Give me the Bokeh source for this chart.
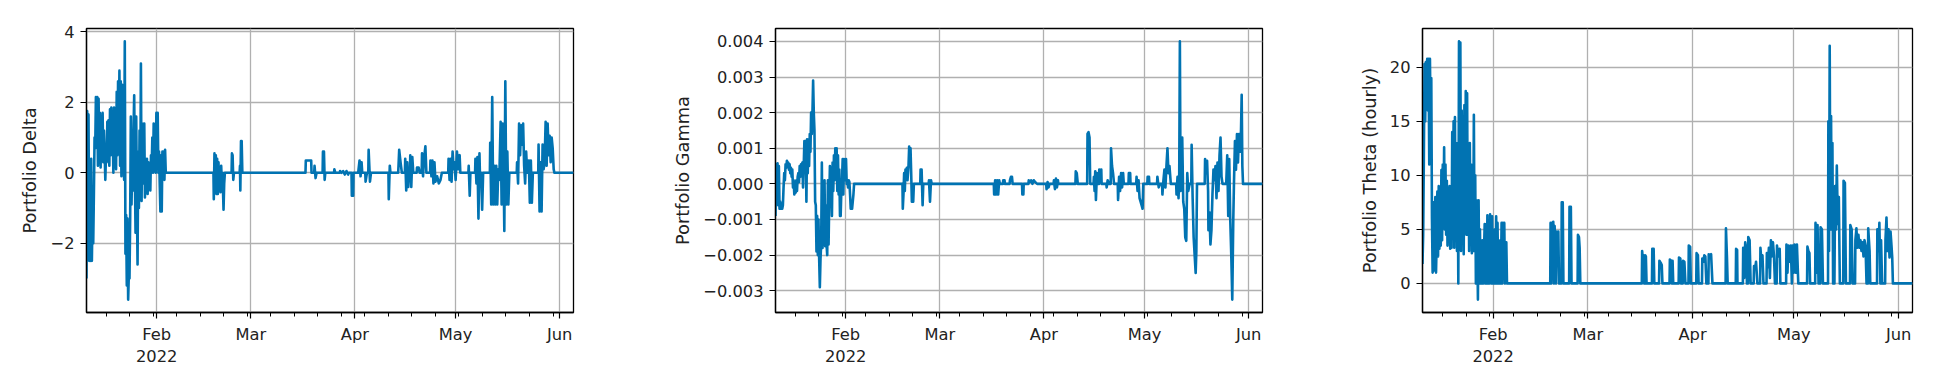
import pandas as pd
from bokeh.plotting import figure
from bokeh.layouts import row
from bokeh.models import Range1d, FixedTicker
from bokeh.embed import file_html
from bokeh.resources import INLINE

BASE = pd.Timestamp("2022-01-01")

# x-axis tick labels
month_dates = ["2022-02-01", "2022-03-01", "2022-04-01", "2022-05-01", "2022-06-01"]
month_labels = ["Feb\n2022", "Mar", "Apr", "May", "Jun"]

# hourly-like sampling during January (days since 2022-01-01)
early_t = [10.1, 10.3, 10.5, 10.7, 10.9, 11.1, 11.3, 11.5, 11.7, 11.9,
           12.1, 12.3, 12.5, 12.7, 12.9, 13.1, 13.3, 13.5, 13.7, 13.9,
           14.1, 14.3, 14.5, 14.7, 14.9, 15.1, 15.3, 15.5, 15.7, 15.9,
           16.1, 16.3, 16.5, 16.7, 16.9, 17.1, 17.3, 17.5, 17.7, 17.9,
           18.1, 18.3, 18.5, 18.7, 18.9, 19.1, 19.3, 19.5, 19.7, 19.9,
           20.1, 20.3, 20.5, 20.7, 20.9, 21.1, 21.3, 21.5, 21.7, 21.9,
           22.1, 22.3, 22.5, 22.7, 22.9, 23.1, 23.3, 23.5, 23.7, 23.9,
           24.1, 24.3, 24.5, 24.7, 24.9, 25.1, 25.3, 25.5, 25.7, 25.9,
           26.1, 26.3, 26.5, 26.7, 26.9, 27.1, 27.3, 27.5, 27.7, 27.9,
           28.1, 28.3, 28.5, 28.7, 28.9, 29.1, 29.3, 29.5, 29.7, 29.9,
           30.1, 30.3, 30.5, 30.7, 30.9, 31.1, 31.3, 31.5, 31.7, 31.9,
           32.1, 32.3, 32.5, 32.7, 32.9, 33.1, 33.3, 33.5, 33.7, 33.9,
           34.1, 34.3, 34.5, 34.7, 34.9, 35.1, 35.3]

delta_early_v = [-3.0, 1.75, -1.3, 1.65, -2.5, -0.5, -2.5, 0.4, -2.5, -1.0,
                 -2.0, -0.6, 1.0, 0.7, 2.15, 0.9, 2.15, 0.2, 2.1, 0.3,
                 1.7, 0.15, 1.6, 0.5, 1.7, 0.3, 1.2, 0.6, -0.2, 0.5,
                 0.3, 1.45, 0.4, 1.5, 0.2, 1.8, 0.5, 1.85, 0.9, 1.2,
                 0.0, 1.85, 0.6, 1.6, 0.1, 2.3, 0.5, 2.6, 1.0, 2.9,
                 0.2, 2.6, -0.1, 2.5, 0.4, 1.6, -0.2, 3.73, -2.3, -1.2,
                 -3.2, -1.3, -3.6, -2.9, -3.0, -1.3, 1.6, -0.9, 0.2, -0.5,
                 1.2, 2.2, 0.0, -1.7, 1.6, -0.8, -2.6, 0.6, -1.0, 1.2,
                 -0.6, 3.1, -0.8, 1.4, -0.3, 0.3, 1.4, -0.7, 0.4, -0.5,
                 0.4, -0.6, 0.3, -0.4, 0.2, -0.5, 0.5, 0.1, 1.0, 0.0,
                 1.4, 0.1, 0.5, 0.0, 1.7, 0.2, 1.7, 0.0, 0.6, -0.3,
                 -1.1, 0.5, -1.1, 0.6, 0.1, 0.6, -0.2, 0.65, 0.0, 0.0,
                 0.0, 0.0, 0.0, 0.0, 0.0, 0.0, 0.0]

gamma_early_milli = [-0.9, 0.55, -0.4, 0.58, -0.6, 0.5, -0.7, -0.5, -0.7, -0.55,
                     -0.7, -0.6, -0.1, 0.3, 0.1, 0.55, 0.45, 0.65, 0.5, 0.6,
                     0.4, 0.55, 0.3, 0.45, 0.2, 0.4, -0.1, 0.1, -0.3, -0.1,
                     -0.25, 0.1, -0.2, 0.2, 0.3, 0.05, 0.5, 0.2, 0.55, 0.3,
                     0.6, -0.1, 0.5, 1.2, 0.4, 1.2, -0.5, 1.25, 0.3, 1.25,
                     0.5, 1.4, 0.9, 2.0, 1.4, 2.0, 2.9, 2.0, 1.5, -0.5,
                     -0.6, -1.9, -0.9, -2.0, -1.0, -2.1, -2.9, -2.1, -1.7, 0.6,
                     -1.8, -0.6, -1.7, 0.1, -1.75, -0.6, -1.7, -2.0, 0.1, -1.7,
                     -0.5, 0.5, -0.3, 0.1, -0.9, 0.6, -0.2, 0.8, 0.1, 1.0,
                     0.2, 1.0, -0.2, 0.8, -0.3, 0.4, -0.9, -0.9, -0.2, 0.1,
                     0.7, -0.3, 0.7, 0.65, 0.1, 0.7, 0.0, 0.1, -0.1, 0.1,
                     0.05, -0.3, -0.7, -0.5, -0.7, -0.5, -0.3, 0.0, 0.0, 0.0,
                     0.0, 0.0, 0.0, 0.0, 0.0, 0.0, 0.0]

theta_early_v = [1.8, 4.5, 11.5, 20.3, 15.0, 20.5, 17.0, 20.8, 16.0, 20.8,
                 11.0, 20.8, 15.0, 19.0, 6.0, 1.0, 7.5, 1.2, 3.0, 8.0,
                 1.0, 4.0, 8.5, 2.5, 9.0, 3.2, 8.0, 3.5, 10.5, 4.0,
                 11.0, 6.0, 12.6, 5.0, 11.0, 4.5, 9.5, 3.5, 8.5, 4.0,
                 9.0, 3.2, 8.0, 3.3, 14.0, 4.5, 15.0, 3.3, 15.4, 6.0,
                 13.0, 3.0, 11.0, 0.0, 22.4, 10.0, 22.3, 3.0, 16.0, 8.0,
                 13.0, 2.7, 16.5, 6.0, 17.8, 4.5, 17.6, 4.5, 12.0, 3.0,
                 13.0, 5.0, 11.0, 2.8, 9.0, 3.0, 15.6, 3.0, 10.0, 0.0,
                 7.7, 4.0, -1.5, 7.7, 0.0, 5.0, 0.0, 4.0, 0.0, 4.0,
                 0.0, 3.0, 5.5, 0.0, 5.5, 0.0, 6.3, 0.0, 5.0, 0.0,
                 6.4, 5.0, 0.0, 6.2, 0.0, 3.0, 0.0, 5.0, 0.0, 6.2,
                 0.0, 5.6, 0.0, 3.0, 0.0, 4.0, 0.0, 5.6, 0.0, 5.6,
                 2.0, 5.6, 0.0, 3.8, 3.8, 0.0, 0.0]

# February - June samples (days since 2022-01-01)
delta_late_t = [47.9, 48.0, 48.2, 48.4, 48.6, 48.8, 49.0, 49.2, 49.4, 49.6, 49.8, 50.0, 50.2, 50.4,
                50.6, 50.9, 51.1, 51.3, 53.3, 53.4, 53.6, 53.8, 54.0, 55.7, 55.8, 55.9, 56.1, 56.3,
                56.5, 75.3, 75.4, 77.0, 77.1, 77.9, 78.0, 78.3, 78.6, 80.4, 80.5, 80.8, 81.0, 81.2,
                83.8, 83.9, 84.2, 85.5, 85.6, 86.0, 86.5, 87.0, 87.5, 88.0, 88.2, 89.0, 89.1, 89.5,
                89.6, 91.0, 91.1, 91.4, 91.7, 92.0, 92.2, 93.1, 93.2, 93.6, 94.0, 94.1, 94.5, 94.8,
                100.0, 100.1, 100.4, 100.6, 102.9, 103.0, 103.2, 103.6, 104.0, 104.9, 105.0, 105.3,
                105.6, 105.9, 106.1, 106.4, 106.5, 106.8, 107.1, 107.4, 108.4, 108.5, 109.0, 109.3,
                109.9, 110.0, 110.3, 110.6, 111.0, 111.3, 112.4, 112.5, 112.8, 113.1, 113.4, 113.7,
                114.0, 114.5, 115.0, 115.5, 115.9, 117.8, 117.9, 118.2, 118.5, 118.8, 119.1, 119.4,
                119.7, 120.0, 120.4, 120.8, 121.2, 121.4, 123.8, 123.9, 124.2, 124.4, 125.8, 125.9,
                126.2, 126.5, 126.8, 127.1, 127.3, 127.6, 127.9, 128.2, 130.2, 130.3, 130.6, 130.9,
                131.2, 131.5, 131.8, 132.1, 132.4, 132.7, 133.0, 133.4, 133.7, 134.0, 134.3, 134.5,
                134.8, 135.1, 135.4, 135.7, 136.0, 138.2, 138.3, 138.6, 138.9, 139.2, 139.5, 139.8,
                140.1, 140.4, 140.7, 141.0, 141.3, 141.7, 141.8, 142.1, 142.4, 142.7, 143.0, 144.6,
                144.7, 145.0, 145.3, 145.6, 145.9, 146.2, 146.5, 146.8, 147.1, 147.4, 147.7, 148.0,
                148.3, 148.6, 148.9, 149.2, 149.4, 155.1]
delta_late_v = [0.0, -0.75, 0.55, -0.2, 0.5, -0.6, 0.4, -0.6, 0.3, -0.5, 0.1, -0.55, 0.2, -0.3,
                0.0, -1.05, -0.3, 0.0, 0.0, 0.55, 0.5, -0.2, 0.0, 0.0, 0.2, -0.5, 0.9, 0.9,
                0.0, 0.0, 0.35, 0.35, 0.0, 0.0, 0.2, -0.15, 0.0, 0.0, 0.6, 0.6, -0.2, 0.0,
                0.0, 0.1, 0.0, 0.0, 0.05, 0.0, 0.05, -0.05, 0.05, -0.05, 0.0, 0.0, -0.65, -0.65,
                0.0, 0.0, 0.1, 0.35, -0.1, 0.3, 0.0, 0.0, -0.25, 0.0, 0.0, 0.65, -0.25, 0.0,
                0.0, -0.75, 0.2, 0.0, 0.0, 0.2, 0.65, 0.3, 0.0, 0.0, 0.4, -0.5,
                0.3, -0.4, 0.0, 0.0, 0.5, -0.4, 0.45, 0.0, 0.0, 0.15, 0.15, 0.0,
                0.0, 0.55, -0.1, 0.4, 0.75, 0.0, 0.0, 0.35, -0.1, 0.35, -0.3, 0.3,
                -0.25, -0.1, -0.3, -0.2, 0.0, 0.0, 0.4, -0.2, 0.4, -0.25, 0.6, 0.1,
                0.3, -0.2, 0.6, 0.1, 0.5, 0.0, 0.0, 0.2, -0.65, 0.0, 0.0, 0.4,
                -0.3, 0.45, -1.3, 0.55, -0.3, 0.0, -1.05, 0.0, 0.0, 0.85, -0.9, 2.15,
                -0.9, 0.2, -0.9, 0.2, -0.9, 0.1, -0.2, 1.45, -0.9, 1.4, 0.0, -1.65,
                2.6, -0.9, 0.6, -0.9, 0.0, 0.0, 0.3, -0.3, 1.4, 0.5, 1.35, 0.8,
                1.4, 0.2, -0.3, 0.6, 0.0, 0.0, 0.35, -0.85, 0.35, -0.85, 0.0, 0.0,
                0.8, -1.1, 0.3, -1.1, 0.8, 0.1, 0.3, 1.45, 0.2, 1.4, 0.5, 1.05,
                0.3, 1.0, 0.7, 0.1, 0.0, 0.0]

gamma_late_t = [47.9, 48.0, 48.2, 48.4, 48.6, 48.8, 49.0, 49.2, 49.4, 49.7, 49.9, 50.1, 50.3, 50.5,
                50.7, 50.9, 51.1, 51.3, 53.2, 53.3, 53.6, 53.9, 54.1, 55.7, 55.8, 56.1, 56.4, 56.6,
                75.1, 75.2, 75.5, 75.8, 76.1, 76.4, 76.7, 76.9, 77.8, 77.9, 78.3, 78.4, 79.8, 79.9,
                80.2, 80.5, 80.7, 83.5, 83.6, 83.9, 84.0, 85.4, 85.5, 85.8, 86.2, 86.6, 87.0, 87.4,
                88.0, 90.7, 90.8, 91.1, 91.4, 91.7, 92.9, 93.0, 93.3, 93.6, 93.9, 94.2, 94.3, 99.4,
                99.5, 99.8, 100.1, 102.9, 103.0, 103.3, 103.6, 103.8, 104.8, 104.9, 105.1, 105.3,
                105.5, 105.8, 106.0, 106.4, 106.5, 106.8, 107.1, 107.2, 108.6, 108.7, 109.0, 109.4,
                109.9, 110.0, 110.3, 110.6, 110.9, 112.0, 112.1, 112.4, 112.7, 113.0, 113.3, 113.6,
                113.8, 115.2, 115.3, 115.7, 115.8, 117.5, 117.6, 117.9, 118.2, 118.5, 118.8, 119.1,
                119.4, 119.6, 120.8, 120.9, 121.3, 121.4, 123.7, 123.8, 124.2, 124.6, 125.2, 125.3,
                125.6, 125.9, 126.2, 126.5, 126.8, 127.1, 127.4, 127.8, 129.4, 129.5, 129.8, 130.1,
                130.3, 130.5, 130.7, 131.0, 131.2, 131.5, 131.8, 132.1, 132.4, 132.7, 133.0, 133.4,
                133.9, 134.0, 134.3, 134.6, 134.9, 135.2, 135.4, 135.6, 137.9, 138.0, 138.3, 138.6,
                138.9, 139.0, 139.3, 139.6, 139.9, 140.2, 140.5, 140.8, 141.1, 141.4, 141.7, 142.0,
                142.3, 142.6, 142.9, 143.2, 144.3, 144.6, 144.9, 145.2, 145.5, 145.8, 146.1, 146.4,
                146.6, 146.9, 147.2, 147.5, 147.8, 148.1, 148.4, 148.7, 148.9, 149.1, 149.3, 155.1]
gamma_late_milli = [0.0, -0.7, -0.3, 0.3, -0.2, 0.4, 0.2, 0.45, 0.1, 0.5, 1.05, 0.5, 1.0, 0.3,
                    -0.5, 0.0, -0.5, 0.0, 0.0, 0.4, 0.4, -0.6, 0.0, 0.0, 0.1, -0.5, 0.1, 0.0,
                    0.0, -0.3, 0.1, -0.3, 0.1, -0.3, 0.1, 0.0, 0.0, 0.1, 0.1, 0.0, 0.0, 0.1,
                    0.2, 0.2, 0.0, 0.0, -0.3, -0.3, 0.0, 0.0, 0.1, 0.05, 0.1, 0.0, 0.1, 0.05,
                    0.0, 0.0, -0.15, 0.05, -0.1, 0.0, 0.0, 0.1, -0.15, 0.15, -0.1, 0.1, 0.0, 0.0,
                    0.35, 0.3, 0.0, 0.0, 1.4, 1.45, 1.3, 0.0, 0.0, 0.2, -0.2, 0.35,
                    -0.45, 0.3, 0.0, 0.0, 0.4, 0.1, 0.4, 0.0, 0.0, -0.1, 0.1, 0.0,
                    0.0, 1.0, 0.5, 0.3, 0.0, 0.0, -0.45, 0.2, -0.2, 0.3, -0.1, 0.3,
                    0.0, 0.0, 0.3, 0.3, 0.0, 0.0, 0.2, -0.2, 0.1, -0.4, -0.5, -0.6,
                    -0.7, 0.0, 0.0, 0.2, 0.2, 0.0, 0.0, 0.2, -0.1, 0.0, 0.0, -0.3,
                    0.1, 0.4, -0.1, 0.5, 1.0, 0.3, 0.5, 0.0, 0.0, -0.3, 0.2, -0.4,
                    0.2, 4.0, -0.2, 0.3, 1.3, -0.5, -0.7, -1.5, -1.6, 0.3, -0.2, 0.0,
                    0.0, 1.1, -0.4, -1.5, -2.0, -2.5, -1.9, 0.0, 0.0, 0.7, 0.3, 0.65,
                    -0.2, -1.3, -0.8, -1.7, -1.3, -0.3, 0.4, 0.1, 0.5, -0.4, 0.6, -0.2,
                    0.8, 1.3, 0.2, 0.0, 0.0, 0.8, -0.9, 0.7, -1.0, -2.0, -3.25, -1.0,
                    0.0, 1.2, 0.4, 1.4, 0.6, 1.4, 0.9, 1.5, 2.5, 0.5, 0.0, 0.0]

theta_late_t = [47.9, 48.0, 48.2, 48.4, 48.6, 48.8, 49.0, 49.2, 49.4, 49.6, 49.8, 50.0, 50.3, 50.5,
                51.2, 51.3, 51.6, 51.8, 53.5, 53.6, 54.0, 54.2, 56.0, 56.1, 56.4, 56.6, 56.8,
                75.0, 75.1, 75.3, 75.5, 75.7, 75.9, 76.0, 76.2, 76.4, 78.0, 78.1, 78.5, 78.7,
                80.1, 80.2, 80.6, 80.9, 81.1, 83.2, 83.3, 83.7, 83.9, 84.0, 84.1, 84.3, 85.9, 86.0,
                86.4, 86.6, 87.1, 87.2, 87.6, 87.9, 88.8, 88.9, 89.3, 89.5, 91.1, 91.2, 91.6, 91.8,
                92.8, 92.9, 93.2, 93.5, 93.8, 94.1, 94.7, 94.8, 95.2, 95.5, 95.9, 99.8, 99.9, 100.2,
                100.4, 102.8, 102.9, 103.2, 103.3, 104.9, 105.0, 105.3, 105.6, 106.0, 106.1, 106.4,
                106.5, 106.9, 107.2, 108.1, 108.2, 108.6, 108.8, 109.2, 110.0, 110.1, 110.4, 110.7,
                111.0, 111.9, 112.0, 112.3, 112.6, 112.9, 113.2, 113.5, 113.8, 114.1, 114.4, 114.9,
                115.0, 115.4, 115.8, 116.0, 117.7, 117.8, 118.1, 118.4, 118.8, 119.1, 119.4, 119.6,
                119.9, 120.2, 120.6, 120.9, 121.3, 123.9, 124.0, 124.3, 124.6, 124.8, 126.3, 126.4,
                126.8, 127.0, 127.3, 127.8, 127.9, 128.3, 128.6, 130.1, 130.2, 130.4, 130.6, 130.8,
                131.0, 131.2, 131.4, 131.6, 132.0, 132.2, 132.5, 132.7, 133.0, 133.3, 133.6, 134.6,
                134.7, 135.1, 135.4, 136.6, 136.7, 137.1, 137.4, 138.1, 138.2, 138.5, 138.8, 139.1,
                139.4, 139.7, 140.0, 140.3, 140.6, 140.9, 141.2, 141.5, 141.9, 142.0, 142.4, 142.6,
                144.6, 144.7, 145.0, 145.3, 145.6, 145.8, 146.1, 147.0, 147.1, 147.4, 147.7, 148.0,
                148.3, 148.6, 148.9, 149.1, 149.3, 155.1]
theta_late_v = [0.0, 5.6, 0.0, 5.6, 2.0, 5.7, 0.0, 5.3, 2.0, 0.0, 4.8, 2.5, 4.8, 0.0,
                0.0, 7.5, 7.5, 0.0, 0.0, 7.1, 7.1, 0.0, 0.0, 4.5, 4.3, 3.3, 0.0,
                0.0, 3.0, 2.2, 2.6, 0.0, 0.0, 2.6, 2.5, 0.0, 0.0, 3.2, 3.2, 0.0,
                0.0, 2.1, 1.9, 1.7, 0.0, 0.0, 2.2, 2.1, 0.0, 0.0, 2.1, 0.0, 0.0, 2.4,
                2.3, 0.0, 0.0, 2.1, 2.0, 0.0, 0.0, 3.5, 3.4, 0.0, 0.0, 2.8, 2.6, 0.0,
                0.0, 2.3, 2.0, 2.6, 2.5, 0.0, 0.0, 2.7, 2.6, 2.7, 0.0, 0.0, 5.1, 2.4,
                0.0, 0.0, 3.2, 3.1, 0.0, 0.0, 3.3, 0.5, 3.8, 3.0, 0.0, 0.0,
                4.3, 4.0, 0.0, 0.0, 1.6, 1.5, 2.0, 0.0, 0.0, 3.3, 2.0, 2.6,
                0.0, 0.0, 2.8, 1.5, 3.3, 0.5, 4.0, 2.5, 3.8, 2.6, 0.0, 0.0,
                3.5, 2.5, 3.2, 0.0, 0.0, 3.6, 1.0, 3.5, 2.0, 3.5, 0.0, 3.5,
                1.0, 3.6, 1.0, 3.6, 0.0, 0.0, 3.4, 3.0, 2.8, 0.0, 0.0, 5.6,
                1.0, 5.4, 0.0, 0.0, 5.2, 5.0, 0.0, 0.0, 15.0, 3.0, 22.0, 5.0,
                15.5, 5.0, 13.0, 0.0, 0.0, 9.0, 5.0, 10.9, 5.5, 8.0, 0.0, 0.0,
                9.5, 9.3, 0.0, 0.0, 5.4, 5.0, 0.0, 0.0, 4.0, 5.1, 3.3, 4.5,
                3.3, 4.0, 3.0, 3.8, 2.5, 4.0, 3.5, 0.0, 0.0, 5.1, 3.0, 0.0,
                0.0, 5.0, 3.0, 5.6, 0.0, 4.0, 0.0, 0.0, 4.0, 6.1, 3.0, 5.0,
                2.4, 4.8, 3.4, 2.4, 0.0, 0.0]

delta_y_ticks = [-2, 0, 2, 4]
delta_y_labels = ["\u22122", "0", "2", "4"]
gamma_y_ticks = [-0.003, -0.002, -0.001, 0.0, 0.001, 0.002, 0.003, 0.004]
gamma_y_labels = ["\u22120.003", "\u22120.002", "\u22120.001", "0.000", "0.001", "0.002", "0.003", "0.004"]
theta_y_ticks = [0, 5, 10, 15, 20]
theta_y_labels = ["0", "5", "10", "15", "20"]

LINE_COLOR = "#0173b2"
FONT = "DejaVu Sans"


def to_ms(ts):
    return (pd.Timestamp(ts) - pd.Timestamp("1970-01-01")).total_seconds() * 1000.0


month_ms = [to_ms(d) for d in month_dates]
monday_ms = [to_ms(d) for d in pd.date_range("2022-01-17", "2022-05-30", freq="7D")]


def panel(t_days, vals, ylabel, yticks, ylabels, width, left, right, top):
    x = BASE + pd.to_timedelta(pd.Series(t_days), unit="D")
    lo, hi = min(vals), max(vals)
    pad = 0.05 * (hi - lo)
    p = figure(width=width, height=374, x_axis_type="datetime",
               output_backend="svg", toolbar_location=None,
               x_range=Range1d(x.iloc[0], x.iloc[-1]),
               y_range=Range1d(lo - pad, hi + pad),
               min_border_left=left, min_border_right=right,
               min_border_top=top, min_border_bottom=62)
    p.line(x, vals, line_color=LINE_COLOR, line_width=2.6, line_join="round")

    p.background_fill_color = "white"
    p.border_fill_color = "white"
    p.outline_line_color = "black"
    p.outline_line_width = 1.3
    p.outline_line_alpha = 1.0

    p.xaxis.ticker = FixedTicker(ticks=month_ms, minor_ticks=monday_ms)
    p.xaxis.major_label_overrides = dict(zip(month_ms, month_labels))
    p.yaxis.ticker = FixedTicker(ticks=yticks)
    p.yaxis.major_label_overrides = dict(zip(yticks, ylabels))
    p.xgrid.ticker = FixedTicker(ticks=month_ms)
    p.ygrid.ticker = FixedTicker(ticks=yticks)

    for ax in (p.xaxis[0], p.yaxis[0]):
        ax.axis_line_color = "black"
        ax.axis_line_width = 1.3
        ax.major_tick_line_color = "black"
        ax.major_tick_line_width = 1.2
        ax.minor_tick_line_color = "black"
        ax.minor_tick_line_width = 1.0
        ax.major_tick_in = 0
        ax.major_tick_out = 6
        ax.minor_tick_in = 0
        ax.minor_tick_out = 4
        ax.major_label_text_font = FONT
        ax.major_label_text_font_size = "16.3px"
        ax.major_label_text_color = "#222222"
        ax.major_label_standoff = 6
    p.yaxis.minor_tick_out = 0
    p.yaxis.axis_label = ylabel
    p.yaxis.axis_label_text_font = FONT
    p.yaxis.axis_label_text_font_size = "17.8px"
    p.yaxis.axis_label_text_font_style = "normal"
    p.yaxis.axis_label_text_color = "#222222"
    p.yaxis.axis_label_standoff = 7

    for g in (p.xgrid[0], p.ygrid[0]):
        g.grid_line_color = "#b0b0b0"
        g.grid_line_width = 1.3
    return p


p1 = panel(early_t + delta_late_t, delta_early_v + delta_late_v,
           "Portfolio Delta", delta_y_ticks, delta_y_labels,
           width=640, left=86, right=67, top=28)
p2 = panel(early_t + gamma_late_t,
           [m * 1e-3 for m in gamma_early_milli + gamma_late_milli],
           "Portfolio Gamma", gamma_y_ticks, gamma_y_labels,
           width=700, left=135, right=78, top=28)
p3 = panel(early_t + theta_late_t, theta_early_v + theta_late_v,
           "Portfolio Theta (hourly)", theta_y_ticks, theta_y_labels,
           width=604, left=82, right=32, top=26)

layout = row(p1, p2, p3)
open("out.html", "w").write(file_html(layout, INLINE))
